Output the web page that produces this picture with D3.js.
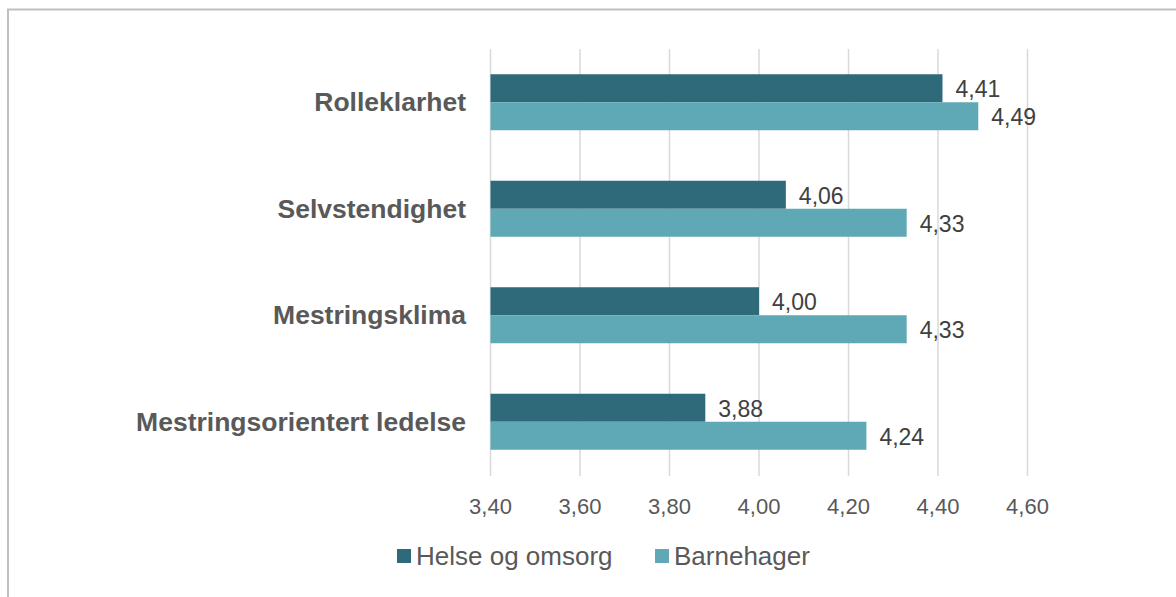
<!DOCTYPE html>
<html lang="no">
<head>
<meta charset="utf-8">
<title>Rolleklarhet og mestring</title>
<script src="https://cdn.jsdelivr.net/npm/d3@7"></script>
<style>
	body { margin: 0; background: #fff; }
	svg { display: block; font-family: "Liberation Sans", Arial, sans-serif; }
	.grid line { stroke: #d9d9d9; stroke-width: 1.5px; }
	.tick-label { fill: #595959; font-size: 22px; }
	.cat-label { fill: #595959; font-size: 26.5px; font-weight: bold; }
	.value { fill: #404040; font-size: 23px; }
	.legend text { fill: #595959; font-size: 26px; }
</style>
</head>
<body>
<div id="chart"></div>
<script>
// data
var categories = ["Rolleklarhet", "Selvstendighet", "Mestringsklima", "Mestringsorientert ledelse"];
var seriesNames = ["Helse og omsorg", "Barnehager"];
var helseOgOmsorg = [4.41, 4.06, 4.00, 3.88];
var barnehager = [4.49, 4.33, 4.33, 4.24];
var tickValues = [3.4, 3.6, 3.8, 4.0, 4.2, 4.4, 4.6];
var colors = ["#2f6a7a", "#5fa8b5"];

var width = 1176, height = 597;

var svg = d3.select("#chart").append("svg")
	.attr("width", width)
	.attr("height", height);

// frame around the figure (only left and top visible)
svg.append("path")
	.attr("d", "M8,597 L8,9.5 L1176,9.5")
	.attr("fill", "none")
	.attr("stroke", "#bfbfbf")
	.attr("stroke-width", 2);

var x = d3.scaleLinear().domain([3.4, 4.6]).range([490.5, 1027.5]);
var y = d3.scaleBand().domain(categories).range([49, 475]);
var groupH = 56;
var y1 = d3.scaleBand().domain(seriesNames).range([0, groupH]);

// vertical gridlines
svg.append("g").attr("class", "grid")
	.selectAll("line")
	.data(tickValues)
	.join("line")
	.attr("x1", function (d) { return x(d); })
	.attr("x2", function (d) { return x(d); })
	.attr("y1", 49)
	.attr("y2", 476);

var fmt = function (d) { return d3.format(".2f")(d).replace(".", ","); };

svg.append("g")
	.selectAll("text")
	.data(tickValues)
	.join("text")
	.attr("class", "tick-label")
	.attr("x", function (d) { return x(d); })
	.attr("y", 506)
	.attr("text-anchor", "middle")
	.attr("dominant-baseline", "central")
	.text(fmt);

// category labels
svg.append("g")
	.selectAll("text")
	.data(categories)
	.join("text")
	.attr("class", "cat-label")
	.attr("x", 466)
	.attr("y", function (d) { return y(d) + y.bandwidth() / 2; })
	.attr("text-anchor", "end")
	.attr("dominant-baseline", "central")
	.text(function (d) { return d; });

var rows = categories.map(function (c, i) {
	return { cat: c, vals: [helseOgOmsorg[i], barnehager[i]] };
});

var groups = svg.append("g")
	.selectAll("g")
	.data(rows)
	.join("g")
	.attr("transform", function (d) {
		return "translate(0," + (y(d.cat) + (y.bandwidth() - groupH) / 2) + ")";
	});

var cells = groups.selectAll("g")
	.data(function (d) {
		return d.vals.map(function (v, j) { return { name: seriesNames[j], v: v, j: j }; });
	})
	.join("g");

cells.append("rect")
	.attr("x", x(3.4))
	.attr("y", function (d) { return y1(d.name); })
	.attr("width", function (d) { return x(d.v) - x(3.4); })
	.attr("height", y1.bandwidth())
	.attr("fill", function (d) { return colors[d.j]; });

cells.append("text")
	.attr("class", "value")
	.attr("x", function (d) { return x(d.v) + 13; })
	.attr("y", function (d) { return y1(d.name) + y1.bandwidth() / 2 + 1; })
	.attr("dominant-baseline", "central")
	.text(function (d) { return fmt(d.v); });

// legend
var legendX = [397, 655];
var legend = svg.append("g").attr("class", "legend")
	.selectAll("g")
	.data(seriesNames)
	.join("g")
	.attr("transform", function (d, i) { return "translate(" + legendX[i] + ",549)"; });

legend.append("rect")
	.attr("width", 14)
	.attr("height", 14)
	.attr("fill", function (d, i) { return colors[i]; });

legend.append("text")
	.attr("x", 19)
	.attr("y", 7)
	.attr("dominant-baseline", "central")
	.text(function (d) { return d; });
</script>
</body>
</html>
